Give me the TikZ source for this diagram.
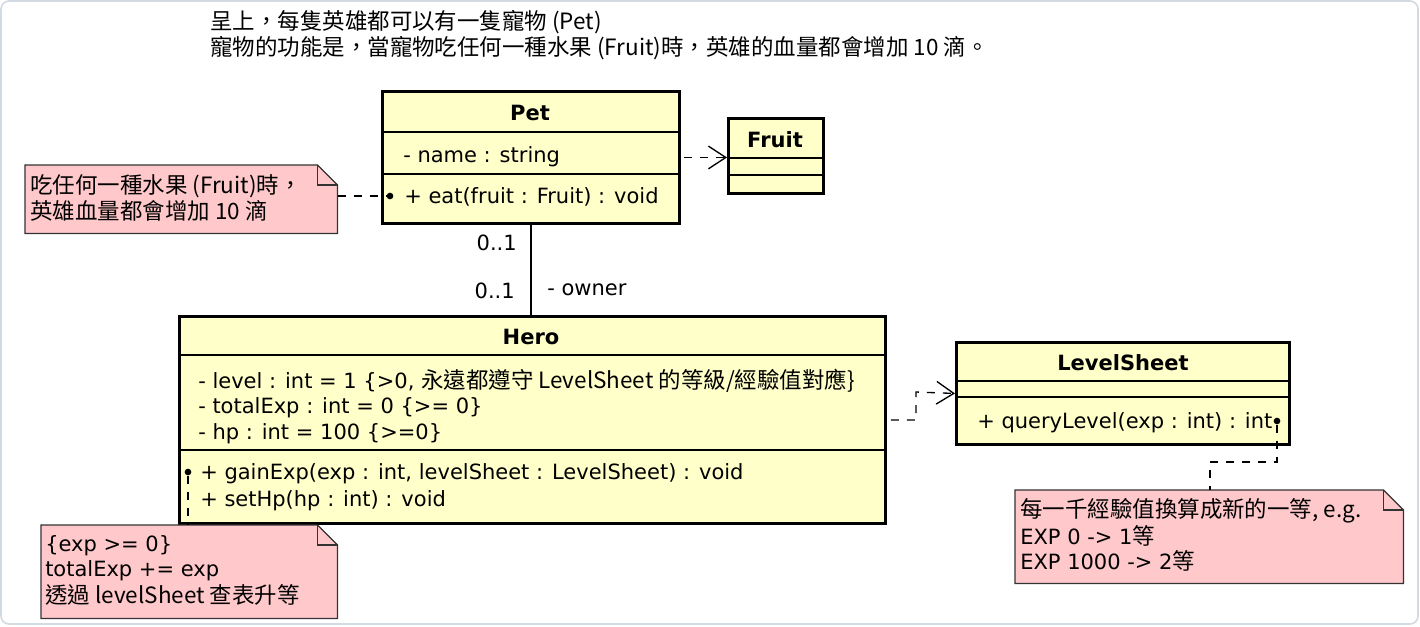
\documentclass[tikz,border=0pt]{standalone}
\usepackage{fontspec}
\setmainfont{DejaVu Sans}
\newfontfamily\cjk[Scale=1.07]{Noto Sans CJK TC}
\usetikzlibrary{arrows.meta,calc}
\newcommand\upx{0.75pt}
\definecolor{classfill}{HTML}{FFFFCA}
\definecolor{notefill}{HTML}{FFC8CA}
\definecolor{framecol}{HTML}{D3DAE2}
\definecolor{noteline}{HTML}{333333}
\tikzset{
  txt/.style={inner sep=0pt, anchor=west, text height=12pt, text depth=0.5pt, font=\fontsize{15.75pt}{19pt}\selectfont},
  ttl/.style={inner sep=0pt, text height=12pt, text depth=0.5pt, font=\fontsize{15.75pt}{19pt}\selectfont\bfseries},
  classbox/.style={draw=black, line width=2.2pt, fill=classfill, inner sep=0pt, anchor=north west},
  sepline/.style={line width=0.9pt},
  noteanchor/.style={inner sep=0pt, anchor=north west},
  notepath/.style={draw=noteline, line width=0.9pt, fill=notefill},
  dep/.style={line width=1pt, dash pattern=on 6pt off 6pt, -{Straight Barb[length=13pt,width=17pt]}},
  conn/.style={line width=1pt, dash pattern=on 6pt off 6pt},
  assoc/.style={line width=0.9pt},
  bullet/.style={circle, fill=black, inner sep=0pt, minimum size=5pt}
}
\newcommand\drawnote[1]{%
  \draw[notepath] (#1.north west) -- ([xshift=-15pt]#1.north east) -- ([yshift=-15pt]#1.north east) -- (#1.south east) -- (#1.south west) -- cycle;
  \draw[notepath, fill=none] ([xshift=-15pt]#1.north east) |- ([yshift=-15pt]#1.north east);}
\newcommand\hsep[2]{\draw[sepline] ([yshift=-#2*\upx]#1.north west) -- ([yshift=-#2*\upx]#1.north east);}
\begin{document}
\begin{tikzpicture}[x=0.75pt, y=-0.75pt]
\useasboundingbox (0,0) rectangle (1420,626);
\draw[framecol, line width=1.2pt, rounded corners=6pt] (1,1) rectangle (1418,624);

% top text
\node[txt] (top1) at (210,22) {\cjk{呈上，每隻英雄都可以有一隻寵物} (Pet)};
\node[txt] (top2) at (210,48) {\cjk{寵物的功能是，當寵物吃任何一種水果} (Fruit)\cjk{時，英雄的血量都會增加} 10 \cjk{滴。}};

% Pet
\node[classbox, minimum width=297*\upx, minimum height=132*\upx] (pet) at (381,90) {};
\hsep{pet}{42}
\hsep{pet}{84}
\node[ttl] (petT) at (530,113) {Pet};
\node[txt] (petA) at (403,155) {- name : string};
\node[txt] (petM) at (404,196) {+ eat(fruit : Fruit) : void};
\node[bullet] (dot1) at (390,196) {};

% Fruit
\node[classbox, minimum width=95*\upx, minimum height=75*\upx] (fruit) at (727,117) {};
\hsep{fruit}{41}
\hsep{fruit}{58}
\node[ttl] (fruitT) at (775,140) {Fruit};

% note 1
\node[noteanchor, minimum width=312*\upx, minimum height=68*\upx] (note1) at (25,165) {};
\drawnote{note1}
\node[txt] (n1a) at (30,186) {\cjk{吃任何一種水果} (Fruit)\cjk{時，}};
\node[txt] (n1b) at (30,212) {\cjk{英雄血量都會增加} 10 \cjk{滴}};

% Hero
\node[classbox, minimum width=706*\upx, minimum height=207*\upx] (hero) at (178,315) {};
\hsep{hero}{40}
\hsep{hero}{135}
\node[ttl] (heroT) at (531,337) {Hero};
\node[txt] (heroA1) at (198,381) {- level : int = 1 \{>0, \cjk{永遠都遵守} LevelSheet \cjk{的等級}/\cjk{經驗值對應}\}};
\node[txt] (heroA2) at (198,406) {- totalExp : int = 0 \{>= 0\}};
\node[txt] (heroA3) at (198,432) {- hp : int = 100 \{>=0\}};
\node[txt] (heroM1) at (200,472) {+ gainExp(exp : int, levelSheet : LevelSheet) : void};
\node[txt] (heroM2) at (200,499) {+ setHp(hp : int) : void};
\node[bullet] (dot2) at (188,472) {};

% note 2
\node[noteanchor, minimum width=296*\upx, minimum height=93*\upx] (note2) at (41,525) {};
\drawnote{note2}
\node[txt] (n2a) at (45,544) {\{exp >= 0\}};
\node[txt] (n2b) at (45,569) {totalExp += exp};
\node[txt] (n2c) at (45,596) {\cjk{透過} levelSheet \cjk{查表升等}};

% LevelSheet
\node[classbox, minimum width=333*\upx, minimum height=102*\upx] (lvl) at (955,341) {};
\hsep{lvl}{40}
\hsep{lvl}{56}
\node[ttl] (lvlT) at (1123,363) {LevelSheet};
\node[txt] (lvlM) at (977,421) {+ queryLevel(exp : int) : int};
\node[bullet] (dot3) at (1277,421) {};

% note 3
\node[noteanchor, minimum width=388*\upx, minimum height=93*\upx] (note3) at (1015,490) {};
\drawnote{note3}
\node[txt] (n3a) at (1020,510) {\cjk{每一千經驗值換算成新的一等}, e.g.};
\node[txt] (n3b) at (1020,537) {EXP 0 -> 1\cjk{等}};
\node[txt] (n3c) at (1020,562) {EXP 1000 -> 2\cjk{等}};

% connectors
\draw[dep] ([xshift=3*\upx]pet.east) -- (pet.east -| fruit.west);
\draw[assoc] (pet.south) -- (pet.south |- hero.north);
\node[txt, anchor=east] (m1) at (517,243) {0..1};
\node[txt, anchor=east] (m2) at (515,291) {0..1};
\node[txt] (role) at (547,288) {- owner};
\draw[conn] (note1.east |- dot1) -- (dot1);
\draw[conn] (dot2) -- (dot2 |- note2.north);
\coordinate (bend) at (916,392);
\draw[dep] ([xshift=4*\upx]hero.east) -| (bend) -- (lvl.west);
\coordinate (k3) at (1210,462);
\draw[conn] (dot3) |- (k3) -- (k3 |- note3.north);
\end{tikzpicture}
\end{document}
